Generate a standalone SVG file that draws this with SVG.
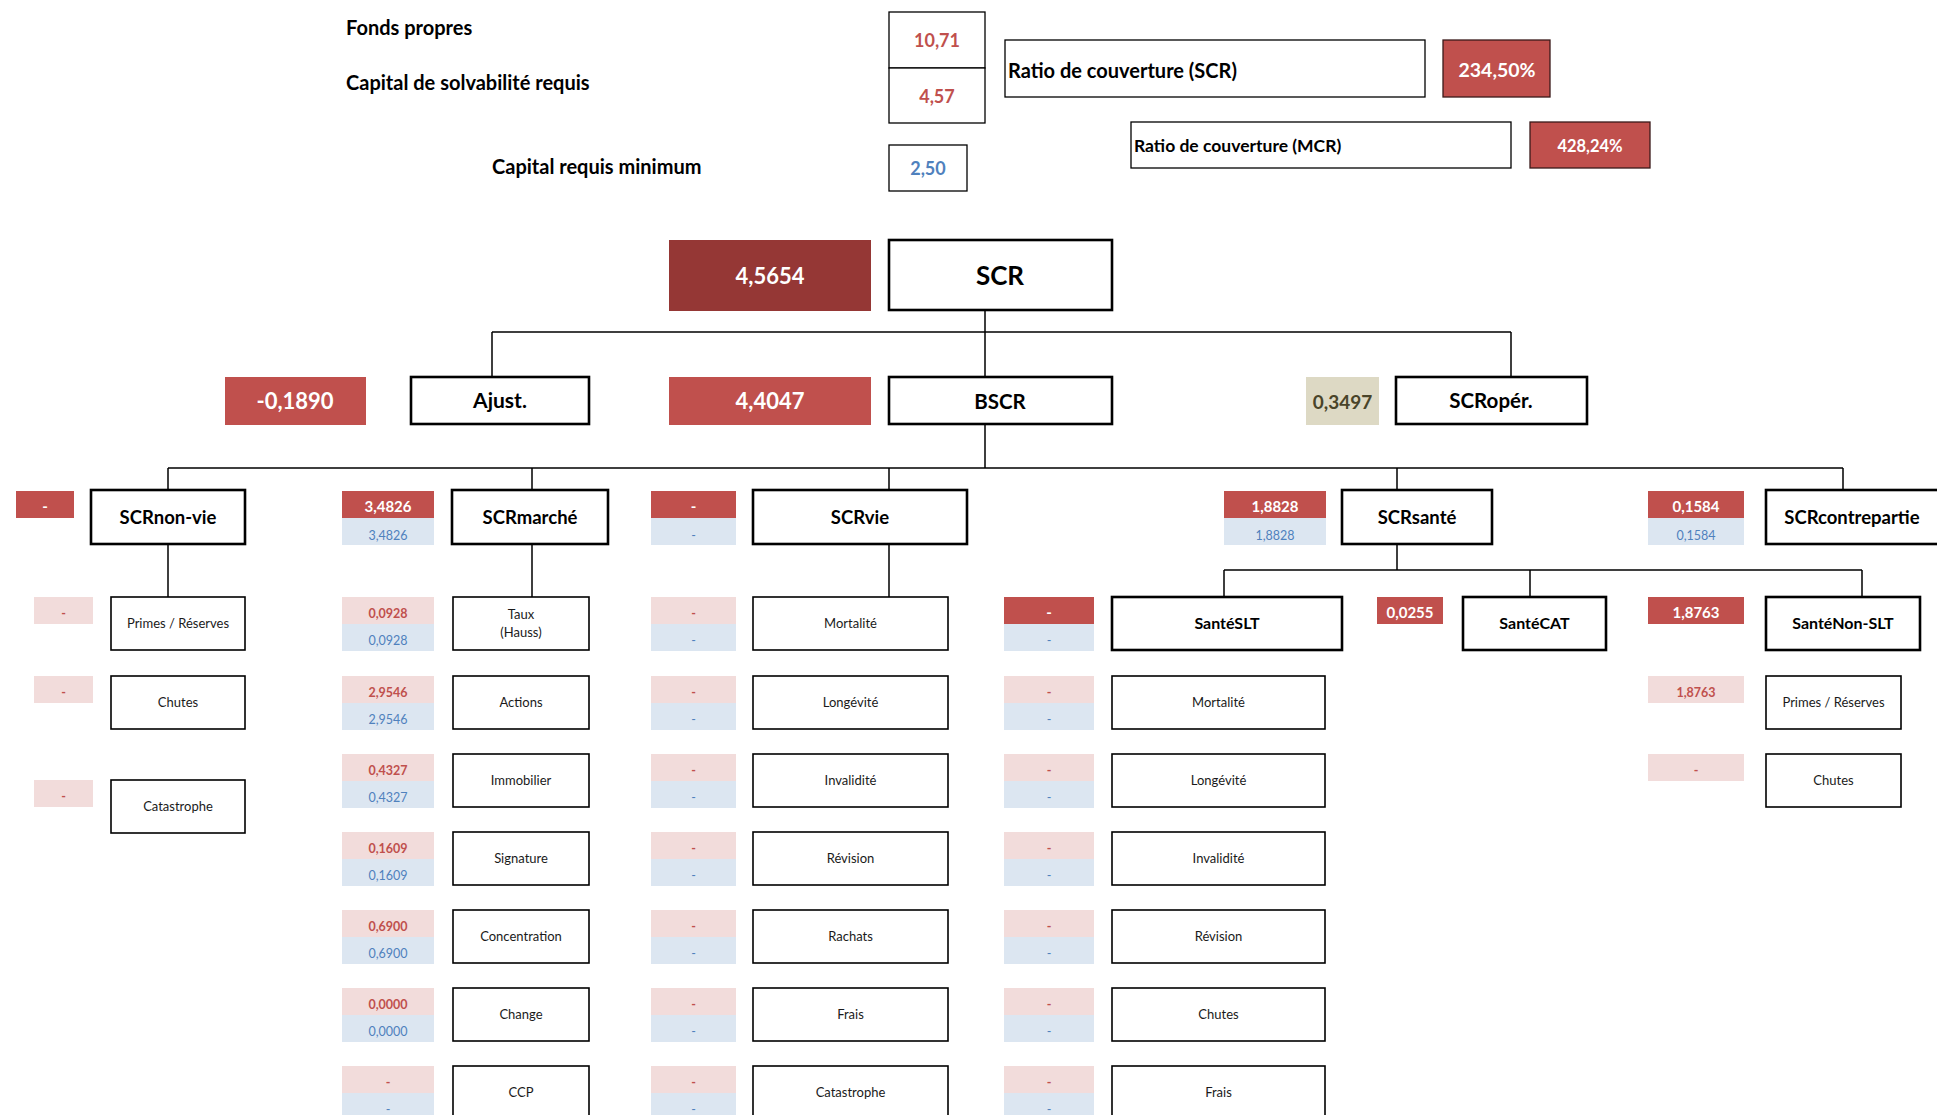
<svg xmlns="http://www.w3.org/2000/svg" width="1937" height="1115" viewBox="0 0 1937 1115">
<defs>
<style>
text{font-family:Lato,'Liberation Sans',sans-serif;text-anchor:middle;fill:#000}
.lab{font-weight:700;font-size:20px;text-anchor:start}
.st{text-anchor:start}
.n{fill:#fff;stroke:#000;stroke-width:2.6}
.s{fill:#fff;stroke:#000;stroke-width:1.6}
.t{fill:#fff;stroke:#000;stroke-width:1.3}
.r{fill:#C0504D}
.dr{fill:#953735}
.pk{fill:#F2DCDB}
.bl{fill:#DCE6F1}
.tan{fill:#DDD9C4}
.big{font-weight:700;font-size:22px}
.nm{font-weight:700;font-size:18.5px}
.nm2{font-weight:700;font-size:16px}
.w{fill:#fff}
.vr{fill:#C0504D;font-weight:700}
.vb{fill:#4F81BD}
.tv{font-weight:700;font-size:15px}
.bv{font-size:12.5px}
.sub{font-size:13px;fill:#1a1a1a}
.olive{fill:#494429}
</style>
</defs>
<rect width="1937" height="1115" fill="#fff"/>

<g id="connectors" fill="none" stroke="#000" stroke-width="1.5">
<path d="M985 310V377M492 332H1511M492 332V377M1511 332V377M985 424V468M168 468H1843M168 468V490M532 468V490M889 468V490M1397 468V490M1843 468V490M168 544V597M532 544V597M889 544V597M1397 544V570M1224 570H1862M1224 570V597M1530 570V597M1862 570V597"/>
</g>

<g id="fonds-propres">
<text class="lab" x="346" y="35">Fonds propres</text>
<rect class="t" x="889" y="12" width="96" height="56"/>
<text class="vr" x="937" y="47" font-size="18">10,71</text>
</g>
<g id="capital-solvabilite">
<text class="lab" x="346" y="90">Capital de solvabilité requis</text>
<rect class="t" x="889" y="68" width="96" height="55"/>
<text class="vr" x="937" y="103" font-size="18">4,57</text>
</g>
<g id="capital-minimum">
<text class="lab" x="492" y="174">Capital requis minimum</text>
<rect class="t" x="889" y="145" width="78" height="46"/>
<text class="vb" x="928" y="175" font-size="18" font-weight="700">2,50</text>
</g>
<g id="ratio-scr">
<rect class="t" x="1005" y="40" width="420" height="57"/>
<text class="st" x="1008" y="78" font-size="20" font-weight="700">Ratio de couverture (SCR)</text>
<rect class="r" x="1443" y="40" width="107" height="57" stroke="#3a1a1a" stroke-width="1.3"/>
<text class="w" x="1497" y="77" font-size="19.5" font-weight="700">234,50%</text>
</g>
<g id="ratio-mcr">
<rect class="t" x="1131" y="122" width="380" height="46"/>
<text class="st" x="1134" y="152" font-size="17.5" font-weight="700">Ratio de couverture (MCR)</text>
<rect class="r" x="1530" y="122" width="120" height="46" stroke="#3a1a1a" stroke-width="1.3"/>
<text class="w" x="1590" y="152" font-size="16.5" font-weight="700">428,24%</text>
</g>

<g id="scr">
<rect class="dr" x="669" y="240" width="202" height="71"/>
<text class="w big" x="770" y="284">4,5654</text>
<rect class="n" x="889" y="240" width="223" height="70"/>
<text x="1000" y="285" font-size="26" font-weight="700">SCR</text>
</g>
<g id="ajust">
<rect class="r" x="225" y="377" width="141" height="48"/>
<text class="w big" x="295" y="409">-0,1890</text>
<rect class="n" x="411" y="377" width="178" height="47"/>
<text x="500" y="408" font-size="21" font-weight="700">Ajust.</text>
</g>
<g id="bscr">
<rect class="r" x="669" y="377" width="202" height="48"/>
<text class="w big" x="770" y="409">4,4047</text>
<rect class="n" x="889" y="377" width="223" height="47"/>
<text x="1000" y="409" font-size="20.5" font-weight="700">BSCR</text>
</g>
<g id="scr-oper">
<rect class="tan" x="1306" y="377" width="73" height="48"/>
<text class="olive" x="1342.5" y="409" font-size="19" font-weight="700">0,3497</text>
<rect class="n" x="1396" y="377" width="191" height="47"/>
<text x="1491" y="408" font-size="20.5" font-weight="700">SCRopér.</text>
</g>

<g id="scr-non-vie">
<rect class="r" x="16" y="491" width="58" height="27"/>
<text class="w tv" x="45" y="512">-</text>
<rect class="n" x="91" y="490" width="154" height="54"/>
<text class="nm" x="168" y="524">SCRnon-vie</text>
</g>
<g id="nv-primes"><rect class="pk" x="34" y="597" width="59" height="27"/><text class="vr bv" x="63.5" y="618">-</text><rect class="s" x="111" y="597" width="134" height="53"/><text class="sub" x="178" y="628">Primes / Réserves</text></g>
<g id="nv-chutes"><rect class="pk" x="34" y="676" width="59" height="27"/><text class="vr bv" x="63.5" y="697">-</text><rect class="s" x="111" y="676" width="134" height="53"/><text class="sub" x="178" y="707">Chutes</text></g>
<g id="nv-catastrophe"><rect class="pk" x="34" y="780" width="59" height="27"/><text class="vr bv" x="63.5" y="801">-</text><rect class="s" x="111" y="780" width="134" height="53"/><text class="sub" x="178" y="811">Catastrophe</text></g>

<g id="scr-marche">
<rect class="r" x="342" y="491" width="92" height="27"/><rect class="bl" x="342" y="518" width="92" height="27"/>
<text class="w tv" x="388" y="512">3,4826</text><text class="vb bv" x="388" y="540">3,4826</text>
<rect class="n" x="452" y="490" width="156" height="54"/>
<text class="nm" x="530" y="524">SCRmarché</text>
</g>
<g id="m-taux"><rect class="pk" x="342" y="597" width="92" height="27"/><rect class="bl" x="342" y="624" width="92" height="27"/><text class="vr bv" x="388" y="618">0,0928</text><text class="vb bv" x="388" y="645">0,0928</text><rect class="s" x="453" y="597" width="136" height="53"/><text class="sub" x="521" y="619">Taux</text><text class="sub" x="521" y="637">(Hauss)</text></g>
<g id="m-actions"><rect class="pk" x="342" y="676" width="92" height="27"/><rect class="bl" x="342" y="703" width="92" height="27"/><text class="vr bv" x="388" y="697">2,9546</text><text class="vb bv" x="388" y="724">2,9546</text><rect class="s" x="453" y="676" width="136" height="53"/><text class="sub" x="521" y="707">Actions</text></g>
<g id="m-immobilier"><rect class="pk" x="342" y="754" width="92" height="27"/><rect class="bl" x="342" y="781" width="92" height="27"/><text class="vr bv" x="388" y="775">0,4327</text><text class="vb bv" x="388" y="802">0,4327</text><rect class="s" x="453" y="754" width="136" height="53"/><text class="sub" x="521" y="785">Immobilier</text></g>
<g id="m-signature"><rect class="pk" x="342" y="832" width="92" height="27"/><rect class="bl" x="342" y="859" width="92" height="27"/><text class="vr bv" x="388" y="853">0,1609</text><text class="vb bv" x="388" y="880">0,1609</text><rect class="s" x="453" y="832" width="136" height="53"/><text class="sub" x="521" y="863">Signature</text></g>
<g id="m-concentration"><rect class="pk" x="342" y="910" width="92" height="27"/><rect class="bl" x="342" y="937" width="92" height="27"/><text class="vr bv" x="388" y="931">0,6900</text><text class="vb bv" x="388" y="958">0,6900</text><rect class="s" x="453" y="910" width="136" height="53"/><text class="sub" x="521" y="941">Concentration</text></g>
<g id="m-change"><rect class="pk" x="342" y="988" width="92" height="27"/><rect class="bl" x="342" y="1015" width="92" height="27"/><text class="vr bv" x="388" y="1009">0,0000</text><text class="vb bv" x="388" y="1036">0,0000</text><rect class="s" x="453" y="988" width="136" height="53"/><text class="sub" x="521" y="1019">Change</text></g>
<g id="m-ccp"><rect class="pk" x="342" y="1066" width="92" height="27"/><rect class="bl" x="342" y="1093" width="92" height="27"/><text class="vr bv" x="388" y="1087">-</text><text class="vb bv" x="388" y="1114">-</text><rect class="s" x="453" y="1066" width="136" height="53"/><text class="sub" x="521" y="1097">CCP</text></g>

<g id="scr-vie">
<rect class="r" x="651" y="491" width="85" height="27"/><rect class="bl" x="651" y="518" width="85" height="27"/>
<text class="w tv" x="693.5" y="512">-</text><text class="vb bv" x="693.5" y="540">-</text>
<rect class="n" x="753" y="490" width="214" height="54"/>
<text class="nm" x="860" y="524">SCRvie</text>
</g>
<g id="v-mortalite"><rect class="pk" x="651" y="597" width="85" height="27"/><rect class="bl" x="651" y="624" width="85" height="27"/><text class="vr bv" x="693.5" y="618">-</text><text class="vb bv" x="693.5" y="645">-</text><rect class="s" x="753" y="597" width="195" height="53"/><text class="sub" x="850.5" y="628">Mortalité</text></g>
<g id="v-longevite"><rect class="pk" x="651" y="676" width="85" height="27"/><rect class="bl" x="651" y="703" width="85" height="27"/><text class="vr bv" x="693.5" y="697">-</text><text class="vb bv" x="693.5" y="724">-</text><rect class="s" x="753" y="676" width="195" height="53"/><text class="sub" x="850.5" y="707">Longévité</text></g>
<g id="v-invalidite"><rect class="pk" x="651" y="754" width="85" height="27"/><rect class="bl" x="651" y="781" width="85" height="27"/><text class="vr bv" x="693.5" y="775">-</text><text class="vb bv" x="693.5" y="802">-</text><rect class="s" x="753" y="754" width="195" height="53"/><text class="sub" x="850.5" y="785">Invalidité</text></g>
<g id="v-revision"><rect class="pk" x="651" y="832" width="85" height="27"/><rect class="bl" x="651" y="859" width="85" height="27"/><text class="vr bv" x="693.5" y="853">-</text><text class="vb bv" x="693.5" y="880">-</text><rect class="s" x="753" y="832" width="195" height="53"/><text class="sub" x="850.5" y="863">Révision</text></g>
<g id="v-rachats"><rect class="pk" x="651" y="910" width="85" height="27"/><rect class="bl" x="651" y="937" width="85" height="27"/><text class="vr bv" x="693.5" y="931">-</text><text class="vb bv" x="693.5" y="958">-</text><rect class="s" x="753" y="910" width="195" height="53"/><text class="sub" x="850.5" y="941">Rachats</text></g>
<g id="v-frais"><rect class="pk" x="651" y="988" width="85" height="27"/><rect class="bl" x="651" y="1015" width="85" height="27"/><text class="vr bv" x="693.5" y="1009">-</text><text class="vb bv" x="693.5" y="1036">-</text><rect class="s" x="753" y="988" width="195" height="53"/><text class="sub" x="850.5" y="1019">Frais</text></g>
<g id="v-catastrophe"><rect class="pk" x="651" y="1066" width="85" height="27"/><rect class="bl" x="651" y="1093" width="85" height="27"/><text class="vr bv" x="693.5" y="1087">-</text><text class="vb bv" x="693.5" y="1114">-</text><rect class="s" x="753" y="1066" width="195" height="53"/><text class="sub" x="850.5" y="1097">Catastrophe</text></g>

<g id="scr-sante">
<rect class="r" x="1224" y="491" width="102" height="27"/><rect class="bl" x="1224" y="518" width="102" height="27"/>
<text class="w tv" x="1275" y="512">1,8828</text><text class="vb bv" x="1275" y="540">1,8828</text>
<rect class="n" x="1342" y="490" width="150" height="54"/>
<text class="nm" x="1417" y="524">SCRsanté</text>
</g>
<g id="sante-slt">
<rect class="r" x="1004" y="597" width="90" height="27"/><rect class="bl" x="1004" y="624" width="90" height="27"/>
<text class="w tv" x="1049" y="618">-</text><text class="vb bv" x="1049" y="645">-</text>
<rect class="n" x="1112" y="597" width="230" height="53"/>
<text class="nm2" x="1227" y="629">SantéSLT</text>
</g>
<g id="slt-mortalite"><rect class="pk" x="1004" y="676" width="90" height="27"/><rect class="bl" x="1004" y="703" width="90" height="27"/><text class="vr bv" x="1049" y="697">-</text><text class="vb bv" x="1049" y="724">-</text><rect class="s" x="1112" y="676" width="213" height="53"/><text class="sub" x="1218.5" y="707">Mortalité</text></g>
<g id="slt-longevite"><rect class="pk" x="1004" y="754" width="90" height="27"/><rect class="bl" x="1004" y="781" width="90" height="27"/><text class="vr bv" x="1049" y="775">-</text><text class="vb bv" x="1049" y="802">-</text><rect class="s" x="1112" y="754" width="213" height="53"/><text class="sub" x="1218.5" y="785">Longévité</text></g>
<g id="slt-invalidite"><rect class="pk" x="1004" y="832" width="90" height="27"/><rect class="bl" x="1004" y="859" width="90" height="27"/><text class="vr bv" x="1049" y="853">-</text><text class="vb bv" x="1049" y="880">-</text><rect class="s" x="1112" y="832" width="213" height="53"/><text class="sub" x="1218.5" y="863">Invalidité</text></g>
<g id="slt-revision"><rect class="pk" x="1004" y="910" width="90" height="27"/><rect class="bl" x="1004" y="937" width="90" height="27"/><text class="vr bv" x="1049" y="931">-</text><text class="vb bv" x="1049" y="958">-</text><rect class="s" x="1112" y="910" width="213" height="53"/><text class="sub" x="1218.5" y="941">Révision</text></g>
<g id="slt-chutes"><rect class="pk" x="1004" y="988" width="90" height="27"/><rect class="bl" x="1004" y="1015" width="90" height="27"/><text class="vr bv" x="1049" y="1009">-</text><text class="vb bv" x="1049" y="1036">-</text><rect class="s" x="1112" y="988" width="213" height="53"/><text class="sub" x="1218.5" y="1019">Chutes</text></g>
<g id="slt-frais"><rect class="pk" x="1004" y="1066" width="90" height="27"/><rect class="bl" x="1004" y="1093" width="90" height="27"/><text class="vr bv" x="1049" y="1087">-</text><text class="vb bv" x="1049" y="1114">-</text><rect class="s" x="1112" y="1066" width="213" height="53"/><text class="sub" x="1218.5" y="1097">Frais</text></g>

<g id="sante-cat">
<rect class="r" x="1377" y="597" width="66" height="27"/>
<text class="w tv" x="1410" y="618">0,0255</text>
<rect class="n" x="1463" y="597" width="143" height="53"/>
<text class="nm2" x="1534.5" y="629">SantéCAT</text>
</g>
<g id="sante-non-slt">
<rect class="r" x="1648" y="597" width="96" height="27"/>
<text class="w tv" x="1696" y="618">1,8763</text>
<rect class="n" x="1766" y="597" width="154" height="53"/>
<text class="nm2" x="1843" y="629">SantéNon-SLT</text>
</g>
<g id="nslt-primes"><rect class="pk" x="1648" y="676" width="96" height="27"/><text class="vr bv" x="1696" y="697" font-weight="400">1,8763</text><rect class="s" x="1766" y="676" width="135" height="53"/><text class="sub" x="1833.5" y="707">Primes / Réserves</text></g>
<g id="nslt-chutes"><rect class="pk" x="1648" y="754" width="96" height="27"/><text class="vr bv" x="1696" y="775">-</text><rect class="s" x="1766" y="754" width="135" height="53"/><text class="sub" x="1833.5" y="785">Chutes</text></g>

<g id="scr-contrepartie">
<rect class="r" x="1648" y="491" width="96" height="27"/><rect class="bl" x="1648" y="518" width="96" height="27"/>
<text class="w tv" x="1696" y="512">0,1584</text><text class="vb bv" x="1696" y="540">0,1584</text>
<rect class="n" x="1766" y="490" width="180" height="54"/>
<text class="nm" x="1852" y="524">SCRcontrepartie</text>
</g>
</svg>
